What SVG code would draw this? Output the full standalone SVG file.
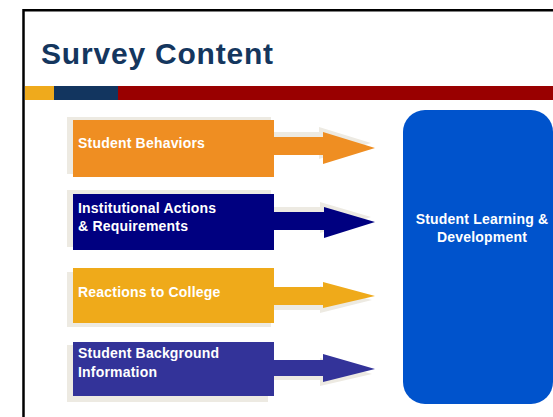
<svg xmlns="http://www.w3.org/2000/svg" width="553" height="417" viewBox="0 0 553 417">
<style>
.lbl{font-family:"Liberation Sans",Arial,sans-serif;font-weight:bold;font-size:14px;fill:#ffffff;letter-spacing:0.2px}
.title{font-family:"Liberation Sans",Arial,sans-serif;font-weight:bold;font-size:30px;fill:#14365E;letter-spacing:0.8px}
.sh{fill:#EDEAE2}
</style>
<rect x="0" y="0" width="553" height="417" fill="#ffffff"/>
<path d="M23.5,420 V10.3 H556" fill="none" stroke="#000000" stroke-width="2.5"/>
<text class="title" x="41" y="64">Survey Content</text>
<rect x="25" y="86" width="29" height="14" fill="#EFAA1C"/>
<rect x="54" y="86" width="64" height="14" fill="#12355F"/>
<rect x="118" y="86" width="435" height="14" fill="#990000"/>

<g id="connectors">
  <polygon class="sh" points="270,132 319,132 319,127 371,143 319,159 319,150 270,150"/>
  <polygon fill="#EF8E22" points="274,137 323,137 323,132 375,148 323,164 323,155 274,155"/>
  <polygon class="sh" points="270,207 320,207 320,202 371,217 320,233 320,225 270,225"/>
  <polygon fill="#000080" points="274,212 324,212 324,207 375,222 324,238 324,230 274,230"/>
  <polygon class="sh" points="270,291 320,291 320,286 372,300 320,313 320,310 270,310"/>
  <polygon fill="#EFAA1A" points="274,287 323,287 323,282 375,296 323,308 323,305 274,305"/>
  <polygon class="sh" points="270,364 320,364 320,358 372,374 320,386 320,380 270,380"/>
  <polygon fill="#333399" points="274,360 323,360 323,354 375,369 323,382 323,376 274,376"/>
</g>

<g id="node-behaviors">
  <rect class="sh" x="67" y="117" width="204" height="57"/>
  <rect x="73" y="120" width="201" height="57" fill="#EF8E22"/>
  <text class="lbl" x="78" y="148">Student Behaviors</text>
</g>
<g id="node-institutional">
  <rect class="sh" x="67" y="190" width="204" height="57"/>
  <rect x="73" y="194" width="201" height="56" fill="#000080"/>
  <text class="lbl" x="78" y="213">Institutional Actions</text>
  <text class="lbl" x="78" y="231">&amp; Requirements</text>
</g>
<g id="node-reactions">
  <rect class="sh" x="67" y="272" width="204" height="55"/>
  <rect x="73" y="268" width="201" height="55" fill="#EFAA1A"/>
  <text class="lbl" x="78" y="297">Reactions to College</text>
</g>
<g id="node-background">
  <rect class="sh" x="67" y="345" width="201" height="57"/>
  <rect x="73" y="342" width="201" height="54" fill="#333399"/>
  <text class="lbl" x="78" y="358">Student Background</text>
  <text class="lbl" x="78" y="377">Information</text>
</g>
<g id="node-learning">
  <rect x="403" y="110" width="150" height="294" rx="22" ry="22" fill="#0053CC"/>
  <text class="lbl" x="482" y="224" text-anchor="middle">Student Learning &amp;</text>
  <text class="lbl" x="482" y="242" text-anchor="middle">Development</text>
</g>
</svg>
